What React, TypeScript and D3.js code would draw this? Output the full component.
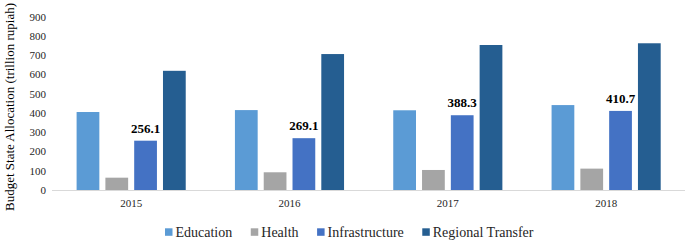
import React, { useEffect, useRef } from "react";
import * as d3 from "d3";

const years = ["2015", "2016", "2017", "2018"];
const seriesNames = ["Education", "Health", "Infrastructure", "Regional Transfer"];
const education = [405, 415, 414, 441];
const health = [64, 92, 104, 111];
const infrastructure = [256.1, 269.1, 388.3, 410.7];
const regionalTransfer = [619, 706, 753, 762];
const yTicks = [0, 100, 200, 300, 400, 500, 600, 700, 800, 900];
const colors = ["#5B9BD5", "#A5A5A5", "#4472C4", "#255E91"];

const W = 685;
const H = 241;

export default function App() {
  const ref = useRef<SVGSVGElement>(null);

  useEffect(() => {
    const svg = d3.select(ref.current);
    svg.selectAll("*").remove();
    const values = [education, health, infrastructure, regionalTransfer];
    const font = "'Liberation Serif', 'Times New Roman', serif";

    const x0 = d3.scaleBand<string>().domain(years).range([52, 685.3]).padding(0);
    const bw0 = x0.bandwidth();
    const outer = 24.6;
    const x1 = d3
      .scaleBand<string>()
      .domain(seriesNames)
      .range([outer, bw0 - outer])
      .paddingInner(0.21)
      .paddingOuter(0);
    const y = d3.scaleLinear().domain([0, 900]).range([190, 16.7]);

    // axis baseline
    svg
      .append("line")
      .attr("x1", 52)
      .attr("x2", 685)
      .attr("y1", y(0) + 0.5)
      .attr("y2", y(0) + 0.5)
      .attr("stroke", "#D9D9D9")
      .attr("stroke-width", 1);

    // y tick labels
    svg
      .append("g")
      .selectAll("text")
      .data(yTicks)
      .join("text")
      .attr("x", 46)
      .attr("y", (d) => y(d))
      .attr("dy", "0.35em")
      .attr("text-anchor", "end")
      .attr("font-family", font)
      .attr("font-size", 11)
      .attr("fill", "#262626")
      .text((d) => d);

    // y title
    svg
      .append("text")
      .attr("transform", `translate(13.5,${107}) rotate(-90)`)
      .attr("text-anchor", "middle")
      .attr("font-family", font)
      .attr("font-size", 13)
      .attr("fill", "#000")
      .text("Budget State Allocation (trillion rupiah)");

    // bars
    const groups = svg
      .append("g")
      .selectAll("g")
      .data(years)
      .join("g")
      .attr("transform", (d) => `translate(${x0(d)},0)`);

    groups
      .selectAll("rect")
      .data((d, i) => seriesNames.map((s, j) => ({ s, j, v: values[j][i] })))
      .join("rect")
      .attr("x", (d) => x1(d.s)!)
      .attr("width", x1.bandwidth())
      .attr("y", (d) => y(d.v))
      .attr("height", (d) => y(0) - y(d.v))
      .attr("fill", (d) => colors[d.j]);

    // infrastructure value labels
    groups
      .append("text")
      .attr("x", x1("Infrastructure")! + x1.bandwidth() / 2)
      .attr("y", (d, i) => y(infrastructure[i]) - 8)
      .attr("text-anchor", "middle")
      .attr("font-family", font)
      .attr("font-size", 13)
      .attr("font-weight", "bold")
      .attr("fill", "#000")
      .text((d, i) => infrastructure[i].toFixed(1));

    // x labels
    svg
      .append("g")
      .selectAll("text")
      .data(years)
      .join("text")
      .attr("x", (d) => x0(d)! + bw0 / 2)
      .attr("y", 207)
      .attr("text-anchor", "middle")
      .attr("font-family", font)
      .attr("font-size", 11)
      .attr("fill", "#262626")
      .text((d) => d);

    // legend
    const lg = svg.append("g");
    let cx = 165;
    seriesNames.forEach((name, j) => {
      lg.append("rect")
        .attr("x", cx)
        .attr("y", 228.3)
        .attr("width", 7.5)
        .attr("height", 7.5)
        .attr("fill", colors[j]);
      const t = lg
        .append("text")
        .attr("x", cx + 10.5)
        .attr("y", 237)
        .attr("font-family", font)
        .attr("font-size", 14)
        .attr("fill", "#262626")
        .text(name);
      const w = (t.node() as SVGTextElement).getComputedTextLength();
      cx = cx + 10.5 + w + 18.5;
    });
  }, []);

  return (
    <svg
      ref={ref}
      width={W}
      height={H}
      style={{ position: "absolute", left: 0, top: 0, background: "#fff" }}
    />
  );
}
